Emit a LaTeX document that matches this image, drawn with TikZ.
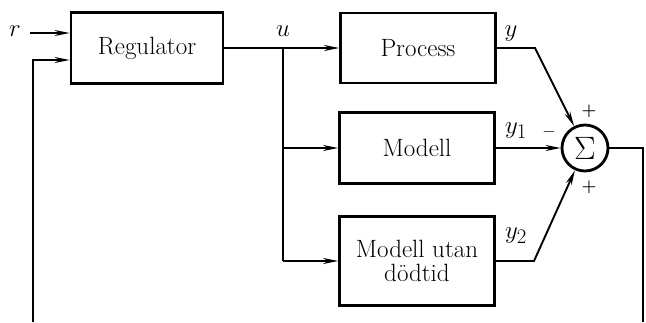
\documentclass[tikz,border=0pt]{standalone}
\usepackage{graphicx}
\usetikzlibrary{arrows.meta}
\begin{document}
\begin{tikzpicture}[x=1pt,y=-1pt,
  blk/.style={draw,line width=2.8pt,rectangle,minimum width=155pt,inner sep=0pt,align=center,font=\fontsize{25}{28}\selectfont},
  sumc/.style={draw,line width=2.8pt,circle,minimum size=46pt,inner sep=0pt,font=\fontsize{24.88}{28}\selectfont},
  conn/.style={line width=1.9pt},
  arr/.style={conn,-{Stealth[length=15pt,width=6pt]}},
  lbl/.style={font=\fontsize{24.88}{28}\selectfont,inner sep=0pt},
  sgn/.style={font=\fontsize{17}{18}\selectfont\bfseries,inner sep=0pt}]
\useasboundingbox (0,0) rectangle (646,322);
\node[blk,minimum width=152pt,minimum height=71pt] (reg) at (147,48) {Regulator};
\node[blk,minimum height=70pt] (proc) at (418,48) {Process};
\node[blk,minimum height=71pt] (mod) at (417,148) {Modell};
\node[blk,minimum height=89pt] (mut) at (417,261) {Modell utan\\[-4pt]dödtid};
\node[sumc] (sum) at (585,148) {\scalebox{1.3}{$\Sigma$}};
\node[lbl] (rl) at (15,31) {$r$};
\node[lbl] (ul) at (283,31) {$u$};
\node[lbl] (yl) at (511,34) {$y$};
\node[lbl] (y1l) at (516,131) {$y_1$};
\node[lbl] (y2l) at (516,236) {$y_2$};
\node[sgn] (p1) at (589,111) {+};
\node[sgn] (m1) at (549,132) {$-$};
\node[sgn] (p2) at (589,187) {+};
\coordinate (rin) at (30,33);
\coordinate (fbb) at (33,322);
\coordinate (fbt) at (33,60);
\coordinate (br) at (283,48);
\coordinate (k1) at (535,48);
\coordinate (k2) at (534,261);
\coordinate (ob) at (643,322);
\draw[arr] (rin) -- (rin -| reg.west);
\draw[arr] (fbb) -- (fbt) -- (fbt -| reg.west);
\draw[arr] (reg.east) -- (proc.west);
\draw[conn] (br) -- (br |- mut.west);
\draw[arr] (br |- mod.west) -- (mod.west);
\draw[arr] (br |- mut.west) -- (mut.west);
\draw[arr] (proc.east) -- (k1) -- (sum);
\draw[arr] (mod.east) -- (sum.west);
\draw[arr] (mut.east) -- (k2) -- (sum);
\draw[conn] (sum.east) -- (sum.east -| ob) -- (ob);
\end{tikzpicture}
\end{document}
